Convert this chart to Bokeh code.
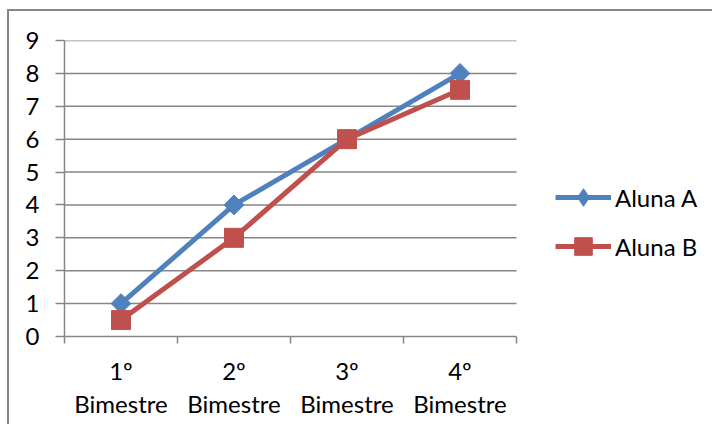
from bokeh.plotting import figure
from bokeh.models import Range1d, LinearAxis, FixedTicker, Legend, LegendItem
from bokeh.embed import file_html
from bokeh.resources import INLINE
import math

categories = ["1º\nBimestre", "2º\nBimestre", "3º\nBimestre", "4º\nBimestre"]
aluna_a = [1, 4, 6, 8]
aluna_b = [0.5, 3, 6, 7.5]
y_ticks = [0, 1, 2, 3, 4, 5, 6, 7, 8, 9]

GRAY = "#868686"
BLUE = "#4F81BD"
RED = "#C0504D"
FONT = "Lato"
FS = "24px"

n = len(categories)
xc = [i + 0.5 for i in range(n)]

W, H = 705, 415
LEFT, TOP, BOTTOM = 55, 29, 90
PLOT_W = 452  # width of category area
frame_w = W - LEFT

p = figure(width=W, height=H, output_backend="svg", toolbar_location=None,
           x_range=Range1d(0, n * frame_w / PLOT_W), y_range=Range1d(0, 9),
           x_axis_type=None, y_axis_type=None,
           min_border_left=LEFT, min_border_right=0, min_border_top=TOP, min_border_bottom=BOTTOM)
p.outline_line_color = None
p.background_fill_color = "white"
p.border_fill_color = "white"
p.styles = {"margin-left": "7px", "margin-top": "9px",
            "border-top": "2px solid #868686", "border-left": "2px solid #868686"}

yaxis = LinearAxis(ticker=FixedTicker(ticks=y_ticks))
yaxis.axis_line_color = GRAY
yaxis.axis_line_width = 1.5
yaxis.major_tick_line_color = GRAY
yaxis.major_tick_line_width = 1.5
yaxis.major_tick_in = 0
yaxis.major_tick_out = 9
yaxis.minor_tick_line_color = None
yaxis.major_label_standoff = 16
yaxis.major_label_text_font = FONT
yaxis.major_label_text_font_size = FS
yaxis.major_label_text_color = "black"
p.add_layout(yaxis, "left")

xaxis = LinearAxis(ticker=FixedTicker(ticks=xc, minor_ticks=list(range(n + 1))), bounds=(0, n))
xaxis.major_label_overrides = {xc[i]: categories[i] for i in range(n)}
xaxis.axis_line_color = GRAY
xaxis.axis_line_width = 1.5
xaxis.major_tick_line_color = None
xaxis.major_tick_in = 0
xaxis.major_tick_out = 0
xaxis.minor_tick_line_color = GRAY
xaxis.minor_tick_line_width = 1.5
xaxis.minor_tick_in = 0
xaxis.minor_tick_out = 7
xaxis.major_label_standoff = 12
xaxis.major_label_text_font = FONT
xaxis.major_label_text_font_size = FS
xaxis.major_label_text_color = "black"
xaxis.major_label_text_line_height = 1.15
p.add_layout(xaxis, "below")

# horizontal gridlines spanning the category area only
gy = y_ticks[1:]
p.segment(x0=[0] * len(gy), y0=gy, x1=[n] * len(gy), y1=gy, line_color=GRAY, line_width=1.5)

la = p.line(xc, aluna_a, line_width=5, color=BLUE)
# diamond used for the legend key (hidden under the rotated squares in the plot)
da = p.scatter(xc, aluna_a, marker="diamond", size=15, color=BLUE)
sa = p.scatter(xc, aluna_a, marker="square", angle=math.pi / 4, size=14, color=BLUE)
lb = p.line(xc, aluna_b, line_width=5, color=RED)
sb = p.scatter(xc, aluna_b, marker="square", size=19, color=RED)

legend = Legend(items=[LegendItem(label="Aluna A", renderers=[la, da]),
                       LegendItem(label="Aluna B", renderers=[lb, sb])],
                location=(PLOT_W + 39, 68))
legend.margin = 0
legend.padding = 0
legend.spacing = 5
legend.glyph_width = 56
legend.glyph_height = 44
legend.label_height = 44
legend.label_standoff = 4
legend.label_text_font = FONT
legend.label_text_font_size = FS
legend.label_text_color = "black"
legend.border_line_color = None
legend.background_fill_alpha = 0
p.add_layout(legend)

open("out.html", "w").write(file_html(p, INLINE))
